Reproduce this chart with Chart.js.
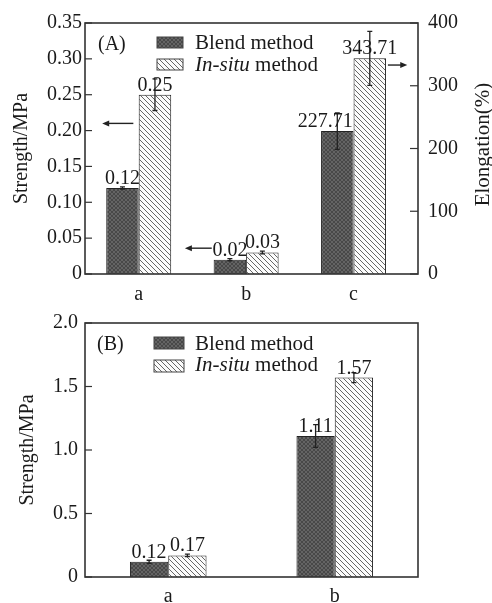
<!DOCTYPE html>
<html>
<head>
<meta charset="utf-8">
<script src="https://cdn.jsdelivr.net/npm/chart.js@4"></script>
<style>
  body { margin: 0; background: #fff; }
  canvas { display: block; }
</style>
</head>
<body>
<canvas id="chartA" width="492" height="300"></canvas>
<canvas id="chartB" width="492" height="303"></canvas>
<script>
// panel (A): strength for a, b (left axis), elongation for c (right axis)
var catsA = ['a', 'b', 'c'];
var strengthBlendA = [0.12, 0.02, null];
var strengthInsituA = [0.25, 0.03, null];
var elongBlendA = [null, null, 227.71];
var elongInsituA = [null, null, 343.71];
var errStrengthBlendA = [0.0015, 0.0015, null];
var errStrengthInsituA = [0.022, 0.002, null];
var errElongBlendA = [null, null, 29];
var errElongInsituA = [null, null, 43];
var strengthTicksA = [0, 0.05, 0.10, 0.15, 0.20, 0.25, 0.30, 0.35];
var elongTicksA = [0, 100, 200, 300, 400];

// panel (B): strength
var catsB = ['a', 'b'];
var strengthBlendB = [0.12, 1.11];
var strengthInsituB = [0.17, 1.57];
var errBlendB = [0.012, 0.09];
var errInsituB = [0.01, 0.04];
var strengthTicksB = [0, 0.5, 1.0, 1.5, 2.0];

var serif = "'Liberation Serif', 'Times New Roman', serif";
var ink = '#1a1a1a';

function makeBlendPattern() {
  var c = document.createElement('canvas');
  c.width = 4; c.height = 4;
  var g = c.getContext('2d');
  g.fillStyle = '#646464';
  g.fillRect(0, 0, 4, 4);
  g.strokeStyle = '#484848';
  g.lineWidth = 1;
  g.beginPath();
  g.moveTo(0, 0); g.lineTo(4, 4);
  g.moveTo(4, 0); g.lineTo(0, 4);
  g.stroke();
  return document.createElement('canvas').getContext('2d').createPattern(c, 'repeat');
}

function makeInsituPattern() {
  var c = document.createElement('canvas');
  c.width = 5; c.height = 5;
  var g = c.getContext('2d');
  g.fillStyle = '#fbfbfb';
  g.fillRect(0, 0, 5, 5);
  g.strokeStyle = '#666';
  g.lineWidth = 1;
  g.beginPath();
  g.moveTo(-1, -1); g.lineTo(6, 6);
  g.moveTo(-1, 4); g.lineTo(1, 6);
  g.moveTo(4, -1); g.lineTo(6, 1);
  g.stroke();
  return document.createElement('canvas').getContext('2d').createPattern(c, 'repeat');
}

var blendFill = makeBlendPattern();
var insituFill = makeInsituPattern();

// box, inward ticks, error bars, value labels, arrows, legend, panel tag
var deco = {
  id: 'deco',
  afterDatasetsDraw: function (chart, args, opts) {
    var ctx = chart.ctx;
    var a = chart.chartArea;
    ctx.save();

    // error bars and value labels
    chart.data.datasets.forEach(function (ds, di) {
      var meta = chart.getDatasetMeta(di);
      var ys = chart.scales[ds.yAxisID || 'y'];
      meta.data.forEach(function (bar, i) {
        var p = meta.controller.getParsed(i);
        if (!p || p.y == null || isNaN(p.y)) return;
        var e = ds.errors ? ds.errors[i] : null;
        if (e != null) {
          var y1 = ys.getPixelForValue(p.y + e);
          var y2 = ys.getPixelForValue(Math.max(0, p.y - e));
          ctx.strokeStyle = '#222';
          ctx.lineWidth = 1.3;
          ctx.beginPath();
          ctx.moveTo(bar.x, y1); ctx.lineTo(bar.x, y2);
          ctx.moveTo(bar.x - 2.5, y1); ctx.lineTo(bar.x + 2.5, y1);
          ctx.moveTo(bar.x - 2.5, y2); ctx.lineTo(bar.x + 2.5, y2);
          ctx.stroke();
        }
        var shift = ds.labelShift ? ds.labelShift[i] || 0 : 0;
        ctx.fillStyle = ink;
        ctx.font = '20px ' + serif;
        ctx.textAlign = 'center';
        ctx.textBaseline = 'alphabetic';
        ctx.fillText(p.y.toFixed(2), bar.x + shift, bar.y - 4);
      });
    });

    // frame
    ctx.strokeStyle = '#333';
    ctx.lineWidth = 1.6;
    ctx.strokeRect(a.left, a.top, a.right - a.left, a.bottom - a.top);

    // inward ticks
    ctx.lineWidth = 1.2;
    (opts.tickAxes || []).forEach(function (id) {
      var s = chart.scales[id];
      var right = s.position === 'right';
      s.ticks.forEach(function (t) {
        var y = s.getPixelForValue(t.value);
        ctx.beginPath();
        if (right) { ctx.moveTo(a.right, y); ctx.lineTo(a.right - 8, y); }
        else { ctx.moveTo(a.left, y); ctx.lineTo(a.left + 7, y); }
        ctx.stroke();
      });
    });

    // arrows
    (opts.arrows || []).forEach(function (ar) {
      var xs = chart.scales.x;
      var ys = chart.scales[ar.axis];
      var xa = xs.getPixelForValue(ar.from);
      var xb = xs.getPixelForValue(ar.to);
      var y = ys.getPixelForValue(ar.y);
      var dir = xb > xa ? 1 : -1;
      ctx.strokeStyle = '#222';
      ctx.fillStyle = '#222';
      ctx.lineWidth = 1.4;
      ctx.beginPath();
      ctx.moveTo(xa, y); ctx.lineTo(xb - dir * 5, y);
      ctx.stroke();
      ctx.beginPath();
      ctx.moveTo(xb, y); ctx.lineTo(xb - dir * 7, y - 3); ctx.lineTo(xb - dir * 7, y + 3);
      ctx.closePath();
      ctx.fill();
    });

    // legend
    var lg = opts.legend;
    var rows = [
      { fill: blendFill, parts: [['Blend method', '']] },
      { fill: insituFill, parts: [['In-situ', 'italic '], [' method', '']] }
    ];
    rows.forEach(function (r, k) {
      var sy = a.top + lg.swatchTop[k];
      ctx.fillStyle = r.fill;
      ctx.fillRect(a.left + lg.swatchX, sy, lg.swatchW, lg.swatchH);
      ctx.strokeStyle = '#444';
      ctx.lineWidth = 1;
      ctx.strokeRect(a.left + lg.swatchX, sy, lg.swatchW, lg.swatchH);
      var tx = a.left + lg.textX;
      ctx.fillStyle = ink;
      ctx.textAlign = 'left';
      ctx.textBaseline = 'alphabetic';
      r.parts.forEach(function (pt) {
        ctx.font = pt[1] + '21px ' + serif;
        ctx.fillText(pt[0], tx, a.top + lg.baseline[k]);
        tx += ctx.measureText(pt[0]).width;
      });
    });

    // panel tag
    ctx.font = '20px ' + serif;
    ctx.fillStyle = ink;
    ctx.fillText(opts.tag, a.left + opts.tagX, a.top + 27);

    // right axis title, reading bottom to top
    if (opts.rightTitle) {
      ctx.save();
      ctx.translate(opts.rightTitleX, (a.top + a.bottom) / 2 - 4);
      ctx.rotate(-Math.PI / 2);
      ctx.textAlign = 'center';
      ctx.textBaseline = 'middle';
      ctx.font = '21px ' + serif;
      ctx.fillText(opts.rightTitle, 0, 0);
      ctx.restore();
    }
    ctx.restore();
  }
};

function pts(arr) {
  return arr.map(function (v, i) { return { x: i + 1, y: v }; });
}

var tickFont = { family: serif, size: 20 };

new Chart(document.getElementById('chartA'), {
  type: 'bar',
  data: {
    datasets: [
      { label: 'Blend method', data: pts(strengthBlendA), errors: errStrengthBlendA, yAxisID: 'y', stack: 'blend', backgroundColor: blendFill },
      { label: 'In-situ method', data: pts(strengthInsituA), errors: errStrengthInsituA, yAxisID: 'y', stack: 'insitu', backgroundColor: insituFill },
      { label: 'Blend method', data: pts(elongBlendA), errors: errElongBlendA, yAxisID: 'y2', stack: 'blend', backgroundColor: blendFill, labelShift: [0, 0, -12] },
      { label: 'In-situ method', data: pts(elongInsituA), errors: errElongInsituA, yAxisID: 'y2', stack: 'insitu', backgroundColor: insituFill }
    ]
  },
  options: {
    responsive: false,
    animation: false,
    devicePixelRatio: 1,
    layout: { padding: { top: 23, left: 0, right: 0, bottom: 0 } },
    datasets: { bar: { categoryPercentage: 0.605, barPercentage: 1, borderColor: '#222', borderWidth: 1 } },
    scales: {
      x: {
        type: 'linear',
        min: 0.5,
        max: 3.6,
        offset: false,
        grid: { display: false, drawTicks: false },
        border: { display: false },
        afterBuildTicks: function (s) { s.ticks = catsA.map(function (c, i) { return { value: i + 1 }; }); },
        afterFit: function (s) { s.height = 26; },
        ticks: { font: tickFont, color: ink, padding: 9, callback: function (v) { return catsA[v - 1]; } }
      },
      y: {
        position: 'left',
        min: 0,
        max: 0.35,
        grid: { display: false, drawTicks: false },
        border: { display: false },
        afterBuildTicks: function (s) { s.ticks = strengthTicksA.map(function (v) { return { value: v }; }); },
        afterFit: function (s) { s.width = 85; },
        ticks: { font: tickFont, color: ink, padding: 3, callback: function (v) { return v === 0 ? '0' : v.toFixed(2); } },
        title: { display: true, text: 'Strength/MPa', font: { family: serif, size: 20 }, color: ink, padding: { top: 10, bottom: 0 } }
      },
      y2: {
        position: 'right',
        min: 0,
        max: 400,
        grid: { display: false, drawTicks: false },
        border: { display: false },
        afterBuildTicks: function (s) { s.ticks = elongTicksA.map(function (v) { return { value: v }; }); },
        afterFit: function (s) { s.width = 74; },
        ticks: { font: tickFont, color: ink, padding: 10 }
      }
    },
    plugins: {
      legend: { display: false },
      tooltip: { enabled: false },
      deco: {
        tag: '(A)',
        tagX: 13,
        tickAxes: ['y', 'y2'],
        rightTitle: 'Elongation(%)',
        rightTitleX: 483,
        legend: { swatchX: 72, swatchW: 26, swatchH: 11, swatchTop: [14, 36], textX: 110, baseline: [26, 48] },
        arrows: [
          { from: 0.95, to: 0.66, y: 0.21, axis: 'y' },
          { from: 1.68, to: 1.43, y: 0.036, axis: 'y' },
          { from: 3.32, to: 3.5, y: 333, axis: 'y2' }
        ]
      }
    }
  },
  plugins: [deco]
});

new Chart(document.getElementById('chartB'), {
  type: 'bar',
  data: {
    labels: catsB,
    datasets: [
      { label: 'Blend method', data: strengthBlendB, errors: errBlendB, backgroundColor: blendFill },
      { label: 'In-situ method', data: strengthInsituB, errors: errInsituB, backgroundColor: insituFill }
    ]
  },
  options: {
    responsive: false,
    animation: false,
    devicePixelRatio: 1,
    layout: { padding: { top: 23, left: 0, right: 74, bottom: 0 } },
    datasets: { bar: { categoryPercentage: 0.46, barPercentage: 1, borderColor: '#222', borderWidth: 1 } },
    scales: {
      x: {
        grid: { display: false, drawTicks: false },
        border: { display: false },
        afterFit: function (s) { s.height = 26; },
        ticks: { font: tickFont, color: ink, padding: 8 }
      },
      y: {
        min: 0,
        max: 2.0,
        grid: { display: false, drawTicks: false },
        border: { display: false },
        afterBuildTicks: function (s) { s.ticks = strengthTicksB.map(function (v) { return { value: v }; }); },
        afterFit: function (s) { s.width = 85; },
        ticks: { font: tickFont, color: ink, padding: 7, callback: function (v) { return v === 0 ? '0' : v.toFixed(1); } },
        title: { display: true, text: 'Strength/MPa', font: { family: serif, size: 20 }, color: ink, padding: { top: 16, bottom: 0 } }
      }
    },
    plugins: {
      legend: { display: false },
      tooltip: { enabled: false },
      deco: {
        tag: '(B)',
        tagX: 12,
        tickAxes: ['y'],
        legend: { swatchX: 69, swatchW: 30, swatchH: 12, swatchTop: [14, 37], textX: 110, baseline: [27, 48] }
      }
    }
  },
  plugins: [deco]
});
</script>
</body>
</html>
